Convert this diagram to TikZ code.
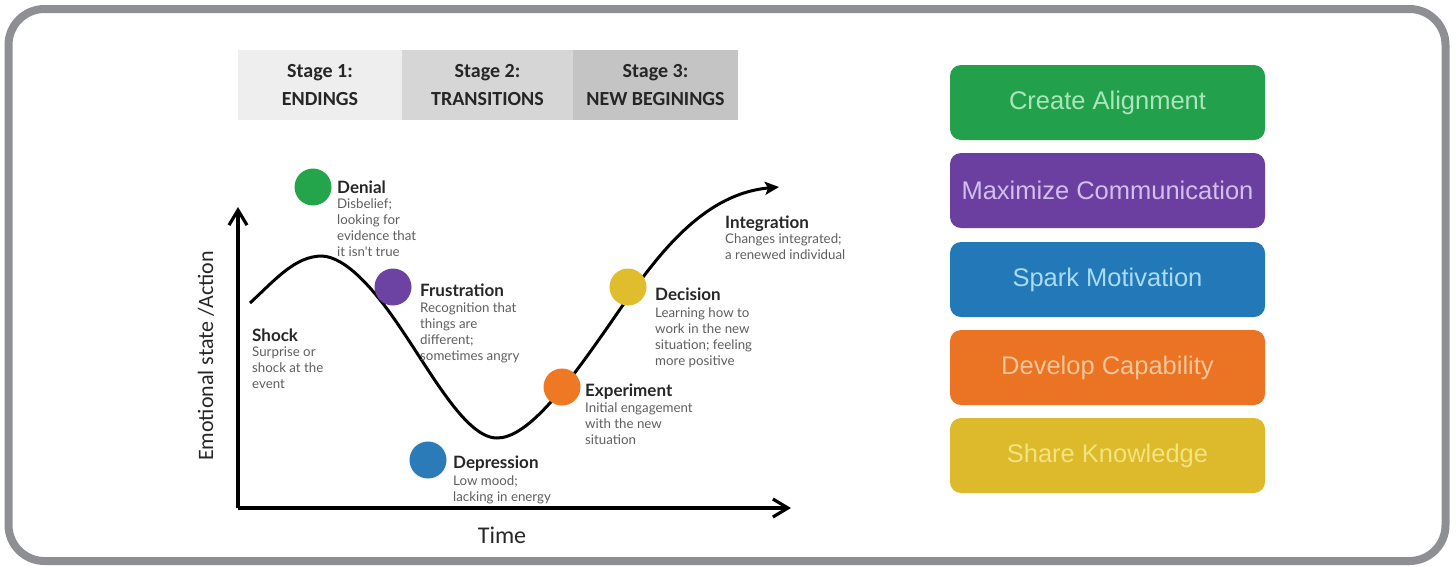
\documentclass[tikz,border=0pt]{standalone}
\usepackage{fontspec}
\setmainfont{Carlito}
\newfontfamily\labfont{Lato}
\newfontfamily\boxfont{Liberation Sans}
\usetikzlibrary{arrows.meta}

\definecolor{framegray}{HTML}{8E8F93}
\definecolor{stageA}{HTML}{EEEEEE}
\definecolor{stageB}{HTML}{D6D6D6}
\definecolor{stageC}{HTML}{C4C4C4}
\definecolor{inkdark}{HTML}{262626}
\definecolor{inkgray}{HTML}{5E5E5E}
% phase dots
\definecolor{dotgreen}{HTML}{24A54B}
\definecolor{dotpurple}{HTML}{6C42A2}
\definecolor{dotblue}{HTML}{2A7BB7}
\definecolor{dotorange}{HTML}{EE7824}
\definecolor{dotyellow}{HTML}{DFBD2D}
% action boxes and their lettering
\definecolor{boxgreen}{HTML}{23A04B}
\definecolor{boxpurple}{HTML}{6A3FA0}
\definecolor{boxblue}{HTML}{2378B8}
\definecolor{boxorange}{HTML}{EB7324}
\definecolor{boxyellow}{HTML}{DCBA2B}
\definecolor{txtgreen}{HTML}{A9E6BA}
\definecolor{txtpurple}{HTML}{D3BEEE}
\definecolor{txtblue}{HTML}{A9DCF4}
\definecolor{txtorange}{HTML}{F8C698}
\definecolor{txtyellow}{HTML}{F4E27E}

\tikzset{
  stagebox/.style={draw=none, minimum height=70, inner sep=0, align=center,
    text=inkdark, font=\bfseries\fontsize{20}{28}\selectfont},
  axis/.style={line width=3.2, -{Straight Barb[length=15pt,width=18pt]}},
  phasecurve/.style={line width=3, -{Stealth[length=14pt,width=13pt,inset=3pt]}},
  phasedot/.style={circle, minimum size=37, inner sep=0, draw=none},
  phasehead/.style={anchor=base west, inner sep=0, text=inkdark,
    font=\labfont\bfseries\fontsize{17}{20}\selectfont},
  phasedesc/.style={anchor=north west, inner sep=0, align=left, text=inkgray,
    font=\labfont\fontsize{13.3}{16}\selectfont},
  actionbox/.style={rounded corners=11, minimum width=315, minimum height=75,
    inner sep=0, font=\boxfont\fontsize{25.5}{28}\selectfont},
}

\begin{document}
\begin{tikzpicture}[x=1pt, y=-1pt]
\useasboundingbox (0,0) rectangle (1456,566);

% outer frame
\draw[framegray, line width=8, rounded corners=36] (8.5,9) rectangle (1445.5,561);

% stage header
\node[stagebox, fill=stageA, minimum width=164] (st1) at (320,85) {Stage 1:\\ENDINGS};
\node[stagebox, fill=stageB, minimum width=171] (st2) at (487.5,85) {Stage 2:\\TRANSITIONS};
\node[stagebox, fill=stageC, minimum width=165] (st3) at (655.5,85) {Stage 3:\\NEW BEGININGS};

% axes
\coordinate (origin) at (238,508);
\coordinate (ytop) at (238,207);
\coordinate (xend) at (791,508);
\draw[axis] (origin) -- (ytop);
\draw[axis] (origin) -- (xend);
\node[rotate=90, font=\fontsize{22}{24}\selectfont, text=inkdark] (ylab) at (206,356) {Emotional state /Action};
\node[font=\fontsize{24}{26}\selectfont, text=inkdark] (xlab) at (502,535) {Time};

% change curve
\coordinate (pStart) at (250,303);
\coordinate (pPeak) at (322,256);
\coordinate (pFall) at (395,320);
\coordinate (pLow) at (497,438);
\coordinate (pRise) at (600,338);
\coordinate (pEnd) at (779,187);
\draw[phasecurve] (pStart) .. controls (275,280) and (295,256) .. (pPeak)
  .. controls (345,257) and (372,287) .. (pFall)
  .. controls (430,370) and (465,438) .. (pLow)
  .. controls (525,438) and (560,395) .. (pRise)
  .. controls (640,282) and (690,195) .. (pEnd);

% phase dots
\node[phasedot, fill=dotgreen] (dDenial) at (313,187) {};
\node[phasedot, fill=dotpurple] (dFrust) at (393,287) {};
\node[phasedot, fill=dotblue] (dDepr) at (428,460) {};
\node[phasedot, fill=dotorange] (dExp) at (562,387) {};
\node[phasedot, fill=dotyellow] (dDec) at (628,287) {};

% phase labels
\node[phasehead] (hShock) at (252,341) {Shock};
\node[phasedesc] (tShock) at (252,347) {Surprise or\\shock at the\\event};
\node[phasehead] (hDenial) at (337,193) {Denial};
\node[phasedesc] (tDenial) at (337,198) {Disbelief;\\looking for\\evidence that\\it isn't true};
\node[phasehead] (hFrust) at (420,296) {Frustration};
\node[phasedesc] (tFrust) at (420,302) {Recognition that\\things are\\different;\\sometimes angry};
\node[phasehead] (hDepr) at (453,468) {Depression};
\node[phasedesc] (tDepr) at (453,475) {Low mood;\\lacking in energy};
\node[phasehead] (hExp) at (585,396) {Experiment};
\node[phasedesc] (tExp) at (585,402) {Initial engagement\\with the new\\situation};
\node[phasehead] (hDec) at (655,300) {Decision};
\node[phasedesc] (tDec) at (655,307) {Learning how to\\work in the new\\situation; feeling\\more positive};
\node[phasehead] (hInt) at (725,228) {Integration};
\node[phasedesc] (tInt) at (725,233) {Changes integrated;\\a renewed individual};

% action boxes
\node[actionbox, fill=boxgreen, text=txtgreen] (aAlign) at (1107.5,102.5) {Create Alignment};
\node[actionbox, fill=boxpurple, text=txtpurple] (aComm) at (1107.5,190.5) {Maximize Communication};
\node[actionbox, fill=boxblue, text=txtblue] (aMotiv) at (1107.5,279.5) {Spark Motivation};
\node[actionbox, fill=boxorange, text=txtorange] (aCap) at (1107.5,367.5) {Develop Capability};
\node[actionbox, fill=boxyellow, text=txtyellow] (aKnow) at (1107.5,455.5) {Share Knowledge};
\end{tikzpicture}
\end{document}
